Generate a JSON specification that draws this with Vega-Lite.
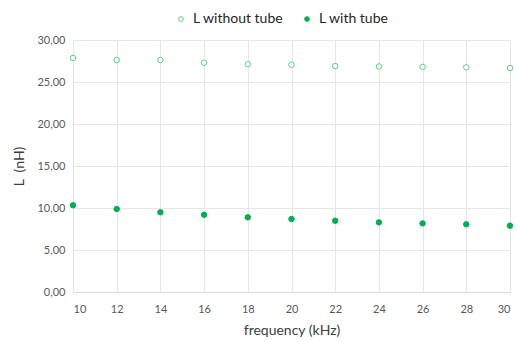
{
  "$schema": "https://vega.github.io/schema/vega-lite/v6.json",
  "width": 437,
  "height": 252,
  "autosize": "none",
  "padding": {"left": 73, "top": 40, "right": 7, "bottom": 50},
  "background": "white",
  "data": {
    "values": [
      {"f": 10, "series": "L without tube", "L": 27.86},
      {"f": 12, "series": "L without tube", "L": 27.62},
      {"f": 14, "series": "L without tube", "L": 27.62},
      {"f": 16, "series": "L without tube", "L": 27.3},
      {"f": 18, "series": "L without tube", "L": 27.12},
      {"f": 20, "series": "L without tube", "L": 27.05},
      {"f": 22, "series": "L without tube", "L": 26.9},
      {"f": 24, "series": "L without tube", "L": 26.85},
      {"f": 26, "series": "L without tube", "L": 26.8},
      {"f": 28, "series": "L without tube", "L": 26.75},
      {"f": 30, "series": "L without tube", "L": 26.67},
      {"f": 10, "series": "L with tube", "L": 10.32},
      {"f": 12, "series": "L with tube", "L": 9.88},
      {"f": 14, "series": "L with tube", "L": 9.49},
      {"f": 16, "series": "L with tube", "L": 9.2},
      {"f": 18, "series": "L with tube", "L": 8.89},
      {"f": 20, "series": "L with tube", "L": 8.69},
      {"f": 22, "series": "L with tube", "L": 8.49},
      {"f": 24, "series": "L with tube", "L": 8.29},
      {"f": 26, "series": "L with tube", "L": 8.17},
      {"f": 28, "series": "L with tube", "L": 8.06},
      {"f": 30, "series": "L with tube", "L": 7.9}
    ]
  },
  "mark": {"type": "point", "size": 30, "strokeWidth": 1, "opacity": 1, "fillOpacity": 1},
  "encoding": {
    "x": {
      "field": "f", "type": "quantitative",
      "scale": {"domain": [10, 30], "nice": false, "zero": false},
      "axis": {"values": [10,12,14,16,18,20,22,24,26,28,30], "title": "frequency (kHz)", "titlePadding": 9, "labelPadding": 11}
    },
    "y": {
      "field": "L", "type": "quantitative",
      "scale": {"domain": [0, 30], "nice": false},
      "axis": {"values": [0,5,10,15,20,25,30], "title": "L \u00a0(nH)", "labelExpr": "replace(format(datum.value, '.2f'), '.', ',')", "domain": false, "titlePadding": 10}
    },
    "fill": {
      "field": "series", "type": "nominal",
      "scale": {"domain": ["L without tube", "L with tube"], "range": ["white", "#00B050"]},
      "legend": {"title": null, "orient": "none", "legendX": 101, "legendY": -28, "direction": "horizontal", "columnPadding": 16}
    },
    "stroke": {
      "field": "series", "type": "nominal",
      "scale": {"domain": ["L without tube", "L with tube"], "range": ["#5ccf85", "#00B050"]},
      "legend": {"title": null, "orient": "none", "legendX": 101, "legendY": -28, "direction": "horizontal", "columnPadding": 16}
    }
  },
  "config": {
    "font": "Lato",
    "view": {"stroke": null},
    "axis": {
      "labelFont": "Lato", "labelFontSize": 11, "labelColor": "#595959",
      "titleFont": "Lato", "titleFontSize": 14, "titleFontWeight": "normal", "titleColor": "#404040",
      "gridColor": "#e6e6e6", "gridWidth": 1, "ticks": false, "domainColor": "#d9d9d9", "labelPadding": 8
    },
    "legend": {"labelFont": "Lato", "labelFontSize": 14, "labelColor": "#262626", "symbolSize": 22, "symbolStrokeWidth": 1, "labelOffset": 5}
  }
}
